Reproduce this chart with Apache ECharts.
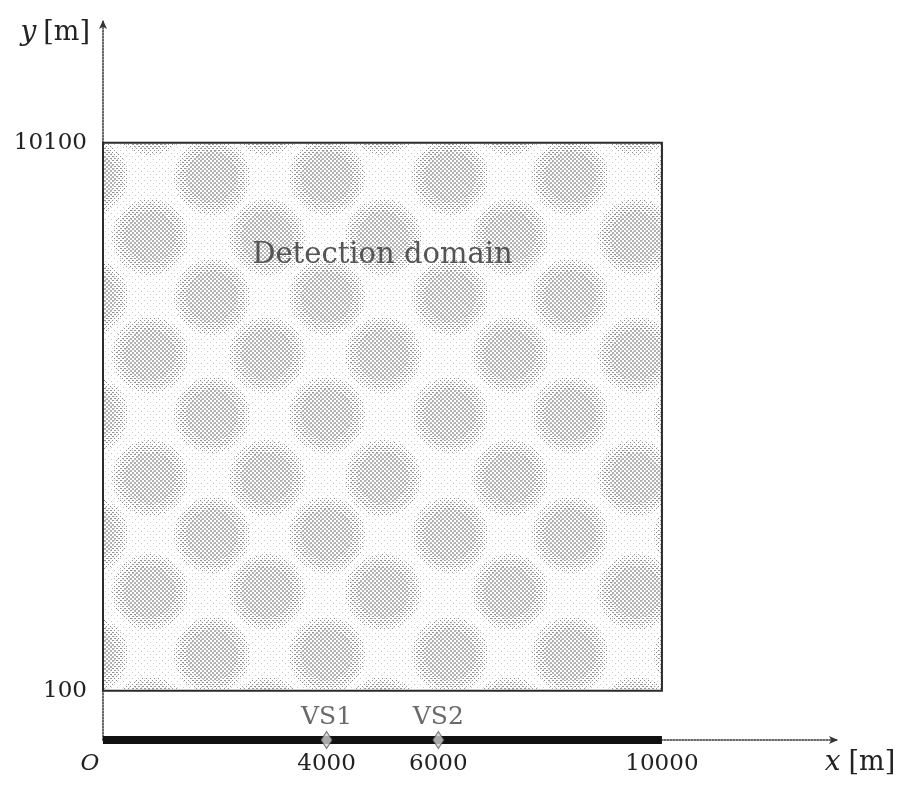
<!DOCTYPE html>
<html><head><meta charset="utf-8">
<script src="https://cdn.jsdelivr.net/npm/echarts@6/dist/echarts.min.js"></script>
<style>html,body{margin:0;padding:0;background:#fff}#c{width:907px;height:787px}</style>
</head><body><div id="c"></div>
<script>
// ---- data ----
const xTickValues = [0, 4000, 6000, 10000];
const yTickValues = [100, 10100];
const domainX = [0, 10000];
const domainY = [100, 10100];
const domainLabel = 'Detection domain';
const domainLabelPos = [5000, 8050];
const sourceLineX = [0, 10000];
const sensorNames = ['VS1', 'VS2'];
const sensorX = [4000, 6000];
const axisBaseY = -800;
// halftone blob grid (staggered rows)
const blobRowY = [10571, 9476, 8380, 7286, 6227, 5132, 3982, 2942, 1901, 751, -344];
const blobColsA = [841, 2934, 5010, 7282, 9537];
const blobColsB = [-233, 1950, 4008, 6209, 8356, 10539];

const FONT = 'DejaVu Serif';
const blobData = [];
blobRowY.forEach((y, i) => {
  (i % 2 === 0 ? blobColsA : blobColsB).forEach(x => blobData.push([x, y]));
});

function makePattern(size, rects, color) {
  const c = document.createElement('canvas');
  c.width = size; c.height = size;
  const g = c.getContext('2d');
  g.fillStyle = color;
  rects.forEach(r => g.fillRect(r[0], r[1], r[2], r[3]));
  return {image: c, repeat: 'repeat'};
}
const patDense = makePattern(4, [[0,0,2,2],[2,2,2,2]], '#b2b2b2');
const patMid = makePattern(4, [[0,0,2,1],[2,2,2,1]], '#949494');
const patLight = makePattern(4, [[0,0,1,1],[2,2,1,1]], '#8c8c8c');
const patSparse = makePattern(6, [[0,0,1,1],[3,3,1,1]], '#cccccc');

function domainBounds(api) {
  const a = api.coord([domainX[0], domainY[1]]);
  const b = api.coord([domainX[1], domainY[0]]);
  return {x0: a[0], y0: a[1], x1: b[0], y1: b[1]};
}
function clampCircle(cx, cy, r, b) {
  const pts = [];
  for (let i = 0; i < 60; i++) {
    const t = i / 60 * Math.PI * 2;
    let x = cx + r * Math.cos(t), y = cy + r * Math.sin(t);
    x = Math.min(Math.max(x, b.x0 + 1), b.x1 - 1);
    y = Math.min(Math.max(y, b.y0 + 1), b.y1 - 1);
    pts.push([x, y]);
  }
  return pts;
}

const chart = echarts.init(document.getElementById('c'));
const richAxis = {
  i: {fontFamily: FONT, fontStyle: 'italic', fontSize: 28, color: '#222'},
  n: {fontFamily: FONT, fontSize: 27, color: '#222'}
};
chart.setOption({
  animation: false,
  backgroundColor: '#fff',
  grid: {left: 103, right: 69, top: 20, bottom: 47, containLabel: false, outerBoundsMode: 'none'},
  xAxis: {
    type: 'value', min: 0, max: 13150,
    axisLine: {show: true, onZero: false, symbol: ['none', 'arrow'], symbolSize: [6, 9],
      lineStyle: {type: 'dotted', color: '#333', width: 1.5}},
    axisTick: {show: false},
    splitLine: {show: false},
    axisLabel: {
      customValues: xTickValues, margin: 13,
      fontFamily: FONT, fontSize: 23, color: '#222',
      formatter: v => v === 0 ? '{o|O}' : String(v),
      rich: {o: {fontFamily: FONT, fontStyle: 'italic', fontSize: 23, color: '#222', padding: [0, 26, 0, 0]}}
    },
    name: '{i|x}{n|[m]}', nameLocation: 'end', nameGap: 22,
    nameTextStyle: {align: 'center', verticalAlign: 'top', padding: [9, 0, 0, 0],
      rich: {i: Object.assign({}, richAxis.i, {padding: [0, 8, 0, 0]}), n: richAxis.n}}
  },
  yAxis: {
    type: 'value', min: axisBaseY, max: 12340,
    axisLine: {show: true, onZero: false, symbol: ['none', 'arrow'], symbolSize: [6, 9],
      lineStyle: {type: 'dotted', color: '#333', width: 1.5}},
    axisTick: {show: false},
    splitLine: {show: false},
    axisLabel: {customValues: yTickValues, margin: 16, fontFamily: FONT, fontSize: 23, color: '#222',
      formatter: v => String(v)},
    name: '{i|y}{n|[m]}', nameLocation: 'end', nameGap: -13,
    nameTextStyle: {align: 'right', verticalAlign: 'middle', padding: [0, 13, 0, 0],
      rich: {i: Object.assign({}, richAxis.i, {padding: [0, 7, 0, 0]}), n: richAxis.n}}
  },
  series: [
    {
      type: 'custom', z: 1, silent: true,
      data: [[domainX[0], domainY[0], domainX[1], domainY[1]]],
      renderItem: (params, api) => {
        const b = domainBounds(api);
        return {type: 'rect', shape: {x: b.x0, y: b.y0, width: b.x1 - b.x0, height: b.y1 - b.y0},
          style: {fill: patSparse}};
      }
    },
    {
      type: 'custom', z: 2, silent: true,
      data: blobData,
      renderItem: (params, api) => {
        const b = domainBounds(api);
        const c = api.coord([api.value(0), api.value(1)]);
        return {type: 'group', children: [
          {type: 'polygon', shape: {points: clampCircle(c[0], c[1], 38, b)}, style: {fill: patLight}},
          {type: 'polygon', shape: {points: clampCircle(c[0], c[1], 33, b)}, style: {fill: patMid}},
          {type: 'polygon', shape: {points: clampCircle(c[0], c[1], 26, b)}, style: {fill: patDense}}
        ]};
      }
    },
    {
      type: 'custom', z: 3, silent: true,
      data: [[domainX[0], domainY[0], domainX[1], domainY[1]]],
      renderItem: (params, api) => {
        const b = domainBounds(api);
        return {type: 'rect', shape: {x: b.x0, y: b.y0, width: b.x1 - b.x0, height: b.y1 - b.y0},
          style: {fill: null, stroke: '#2a2a2a', lineWidth: 2}};
      }
    },
    {
      type: 'custom', z: 4, silent: true,
      data: [domainLabelPos],
      renderItem: (params, api) => {
        const c = api.coord([api.value(0), api.value(1)]);
        return {type: 'text', x: c[0], y: c[1],
          style: {text: domainLabel, fontFamily: FONT, fontSize: 29, fill: '#555', align: 'center', verticalAlign: 'middle'}};
      }
    },
    {
      type: 'line', z: 5, clip: false, silent: true, symbol: 'none',
      data: [[sourceLineX[0], axisBaseY], [sourceLineX[1], axisBaseY]],
      lineStyle: {width: 8, color: '#111', cap: 'butt'}
    },
    {
      type: 'scatter', z: 6, clip: false, silent: true,
      symbol: 'diamond', symbolSize: [11, 17],
      data: sensorX.map((x, i) => ({name: sensorNames[i], value: [x, axisBaseY]})),
      itemStyle: {color: '#d0d0d0', borderColor: '#555', borderWidth: 1},
      label: {show: true, position: 'top', distance: 1, formatter: p => p.name,
        fontFamily: FONT, fontSize: 25, color: '#444'}
    }
  ]
});
</script>
</body></html>
